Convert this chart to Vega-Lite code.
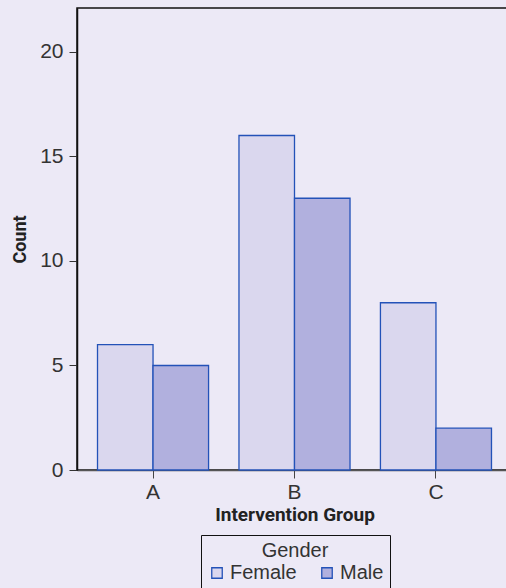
{
  "$schema": "https://vega.github.io/schema/vega-lite/v6.json",
  "autosize": {"type": "none"},
  "width": 435,
  "height": 462,
  "padding": {"left": 77, "top": 8, "right": 0, "bottom": 118},
  "background": "#ece9f6",
  "config": {
    "view": {"stroke": "#111111", "strokeWidth": 1.5, "fill": "#ece9f6"},
    "axis": {"labelFont": "Liberation Sans, Arial, sans-serif", "labelColor": "#333333", "labelFontSize": 21, "titleFont": "Roboto, sans-serif", "titleColor": "#222222", "titleFontWeight": "bold", "grid": false}
  },
  "data": {
    "values": [
      {"group": "A", "gender": "Female", "count": 6},
      {"group": "A", "gender": "Male", "count": 5},
      {"group": "B", "gender": "Female", "count": 16},
      {"group": "B", "gender": "Male", "count": 13},
      {"group": "C", "gender": "Female", "count": 8},
      {"group": "C", "gender": "Male", "count": 2}
    ]
  },
  "mark": {"type": "bar", "stroke": "#2352b8", "strokeWidth": 1.3},
  "encoding": {
    "x": {
      "field": "group", "type": "nominal",
      "scale": {"paddingInner": 0.215, "paddingOuter": 0.145},
      "axis": {"title": "Intervention Group", "titleFontSize": 19, "labelAngle": 0, "tickSize": 8, "tickColor": "#444444", "domainColor": "#555555", "domainWidth": 1.5, "labelPadding": 3, "titlePadding": 3}
    },
    "xOffset": {"field": "gender", "type": "nominal", "scale": {"paddingInner": 0, "paddingOuter": 0}},
    "y": {
      "field": "count", "type": "quantitative",
      "scale": {"domain": [0, 22.1], "nice": false},
      "axis": {"title": "Count", "titleFontSize": 18, "values": [0, 5, 10, 15, 20], "tickSize": 8, "tickColor": "#333333", "domainColor": "#111111", "domainWidth": 1.5, "labelPadding": 6, "titlePadding": 10}
    },
    "color": {
      "field": "gender", "type": "nominal",
      "scale": {"domain": ["Female", "Male"], "range": ["#dad7ee", "#b1b0de"]},
      "legend": {
        "orient": "none", "legendX": 124, "legendY": 527,
        "direction": "horizontal", "columns": 2,
        "title": "Gender", "titleFont": "Liberation Sans, Arial, sans-serif", "titleFontWeight": "normal", "titleFontSize": 20, "titleColor": "#333333", "titleAnchor": "middle", "titlePadding": 2,
        "labelFont": "Liberation Sans, Arial, sans-serif", "labelFontSize": 20, "labelColor": "#333333",
        "symbolType": "square", "symbolSize": 110, "symbolStrokeColor": "#2352b8", "symbolStrokeWidth": 1.3, "symbolOpacity": 1,
        "columnPadding": 20, "padding": 6, "strokeColor": "#111111", "fillColor": "#ece9f6", "labelOffset": 3
      }
    }
  }
}
